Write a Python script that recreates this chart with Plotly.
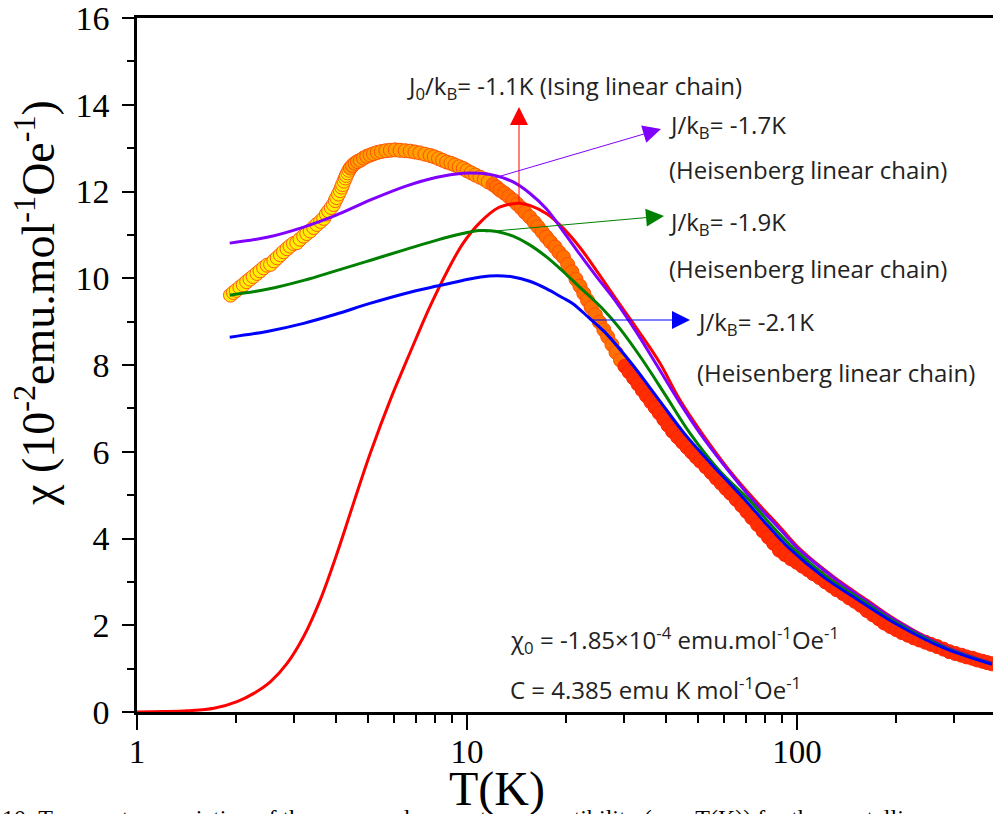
import plotly.graph_objects as go

# ---------------- data ----------------
T_data = [1.92, 1.96, 2.0, 2.05, 2.1, 2.15, 2.2, 2.25, 2.31, 2.36, 2.42, 2.48, 2.54, 2.6, 2.66, 2.72,
          2.78, 2.85, 2.91, 2.98, 3.05, 3.12, 3.2, 3.27, 3.35, 3.43, 3.51, 3.6, 3.68, 3.75, 3.81, 3.88,
          3.94, 3.99, 4.03, 4.08, 4.13, 4.17, 4.2, 4.24, 4.28, 4.31, 4.35, 4.39, 4.43, 4.5, 4.58, 4.66,
          4.75, 4.86, 4.97, 5.09, 5.21, 5.35, 5.5, 5.68, 5.86, 6.06, 6.27, 6.5, 6.73, 6.96, 7.2, 7.46,
          7.74, 7.96, 8.2, 8.44, 8.68, 8.94, 9.2, 9.47, 9.75, 10.0, 10.3, 10.6, 10.95, 11.3, 11.6, 12.0,
          12.3, 12.6, 13.0, 13.4, 13.8, 14.2, 14.6, 15.0, 15.5, 16.0, 16.4, 16.9, 17.4, 17.9, 18.5, 19.0,
          19.6, 20.2, 20.8, 21.4, 22.0, 22.6, 23.2, 23.8, 24.5, 25.2, 26.0, 26.7, 27.5, 28.3, 29.2, 30.1,
          31.0, 32.0, 33.0, 34.0, 35.0, 36.1, 37.2, 38.3, 39.5, 40.7, 42, 43.5, 45, 46.5, 48, 49.5,
          51, 53, 55, 57, 59, 61, 63, 65.5, 68, 70.5, 73, 76, 79, 82, 85, 88.5,
          92, 96, 100, 104, 108, 112, 117, 122, 127, 132, 138, 144, 150, 156, 163, 170,
          177, 184, 192, 200, 208, 217, 226, 235, 245, 255, 266, 278, 290, 302, 315, 327,
          340, 352, 365, 377, 390]
chi_data = [9.61, 9.67, 9.72, 9.79, 9.85, 9.92, 9.98, 10.04, 10.11, 10.17, 10.24, 10.30, 10.32, 10.40, 10.47, 10.54,
            10.61, 10.68, 10.74, 10.80, 10.82, 10.90, 10.97, 11.03, 11.09, 11.17, 11.24, 11.31, 11.38, 11.48, 11.55, 11.63,
            11.70, 11.79, 11.86, 11.94, 12.02, 12.10, 12.16, 12.24, 12.31, 12.37, 12.43, 12.49, 12.54, 12.60, 12.65, 12.69,
            12.72, 12.77, 12.81, 12.84, 12.87, 12.90, 12.92, 12.94, 12.95, 12.96, 12.95, 12.94, 12.93, 12.91, 12.89, 12.86,
            12.83, 12.80, 12.76, 12.72, 12.68, 12.65, 12.61, 12.57, 12.53, 12.48, 12.43, 12.38, 12.33, 12.28, 12.22, 12.16,
            12.10, 12.03, 11.96, 11.88, 11.80, 11.71, 11.62, 11.52, 11.41, 11.29, 11.19, 11.07, 10.95, 10.84, 10.72, 10.60,
            10.49, 10.32, 10.15, 9.98, 9.82, 9.65, 9.49, 9.33, 9.16, 8.99, 8.81, 8.65, 8.47, 8.29, 8.11, 7.97,
            7.84, 7.70, 7.56, 7.42, 7.29, 7.15, 7.02, 6.89, 6.75, 6.61, 6.47, 6.34, 6.22, 6.10, 5.99, 5.88,
            5.78, 5.65, 5.52, 5.39, 5.27, 5.15, 5.04, 4.90, 4.76, 4.62, 4.48, 4.32, 4.17, 4.03, 3.89, 3.73,
            3.63, 3.53, 3.45, 3.36, 3.28, 3.19, 3.10, 3.00, 2.91, 2.82, 2.73, 2.63, 2.55, 2.46, 2.34, 2.24,
            2.15, 2.05, 1.97, 1.90, 1.83, 1.77, 1.71, 1.66, 1.61, 1.56, 1.51, 1.45, 1.39, 1.35, 1.31, 1.27,
            1.24, 1.20, 1.17, 1.14, 1.11]

T_ising = [1.0, 1.2, 1.42, 1.71, 2.01, 2.26, 2.54, 2.85, 3.2, 3.59, 4.04, 4.53, 5.09, 5.93, 6.44, 7.0,
           7.73, 8.7, 9.72, 11.0, 12.4, 13.8, 14.4, 15.5, 17.5, 19.6, 22, 25, 28.5, 33, 38.4, 44,
           51.5, 62, 74.7, 88, 103, 130, 163, 200, 280, 390]
chi_ising = [0.0, 0.01, 0.03, 0.085, 0.24, 0.43, 0.70, 1.12, 1.74, 2.58, 3.66, 4.81, 5.96, 7.30, 7.95, 8.60,
             9.35, 10.15, 10.80, 11.30, 11.62, 11.72, 11.73, 11.68, 11.48, 11.15, 10.71, 10.12, 9.49, 8.80, 8.05, 7.22,
             6.43, 5.60, 4.88, 4.30, 3.73, 3.10, 2.58, 2.12, 1.52, 1.13]

T_h17 = [1.91, 2.5, 3.2, 4.0, 5.08, 6.5, 8.11, 9.72, 11, 12.3, 13.8, 15.5, 17.4, 19.5, 22, 24.8, 28.1,
         33, 37.6, 44, 50.8, 60, 73.6, 88, 102, 130, 161, 200, 280, 390]
chi_h17 = [10.81, 10.95, 11.18, 11.45, 11.80, 12.12, 12.33, 12.42, 12.42, 12.36, 12.22, 11.96, 11.60, 11.10,
           10.55, 10.02, 9.49, 8.70, 8.00, 7.15, 6.43, 5.70, 4.88, 4.25, 3.73, 3.08, 2.58, 2.10, 1.51, 1.12]

T_h19 = [1.91, 2.5, 3.2, 4.0, 5.08, 6.5, 8.11, 9.7, 10.9, 12.3, 13.8, 15.5, 17.5, 19.6, 22, 25.6, 29,
         34.1, 40, 47.4, 58, 71.8, 85, 98, 125, 157, 200, 280, 390]
chi_h19 = [9.61, 9.75, 9.95, 10.17, 10.41, 10.66, 10.88, 11.03, 11.10, 11.08, 10.97, 10.77, 10.48, 10.15,
           9.79, 9.32, 8.85, 8.11, 7.30, 6.43, 5.58, 4.88, 4.25, 3.76, 3.08, 2.58, 2.06, 1.49, 1.11]

T_h21 = [1.91, 2.5, 3.2, 4.0, 5.08, 6.5, 8.11, 9.7, 11, 12.3, 13.8, 15.5, 17.4, 19.5, 20.9, 23.5, 26,
         31.2, 38, 45.5, 55, 62, 69.8, 82, 94, 120, 155, 200, 280, 390]
chi_h21 = [8.64, 8.78, 8.96, 9.17, 9.42, 9.65, 9.82, 9.95, 10.03, 10.06, 10.03, 9.93, 9.76, 9.55, 9.42,
           9.08, 8.78, 8.08, 7.22, 6.43, 5.72, 5.30, 4.88, 4.28, 3.80, 3.12, 2.56, 2.03, 1.47, 1.10]

y_ticks = [0, 2, 4, 6, 8, 10, 12, 14, 16]
x_ticks = [1, 10, 100]
x_minor = [2, 3, 4, 5, 6, 7, 8, 9, 20, 30, 40, 50, 60, 70, 80, 90, 200, 300]

caption = ("10: Temperature variation of the measured magnetic susceptibility (χ vs T(K)) "
           "for the crystalline")

# ---------------- geometry helpers (pixel -> paper) ----------------
W, H = 993, 814
L, R, TOP, BOT = 137, 0, 18, 102
PW, PH = W - L - R, H - TOP - BOT


def px(x):
    return (x - L) / PW


def py(y):
    return (H - BOT - y) / PH


def marker_fill(t):
    if t < 4.4:
        return "#FFF000"
    if t < 12:
        return "#FFA000"
    if t < 30:
        return "#FF7000"
    return "#FF2E00"


def marker_edge(t):
    if t < 4.4:
        return "#FF5A1A"
    if t < 30:
        return "#FF5000"
    return "#FF2000"


fig = go.Figure()

# data band (underlay + circles)
fig.add_trace(go.Scatter(x=T_data, y=chi_data, mode="lines",
                         line=dict(color="#FF4000", width=11, shape="spline"),
                         hoverinfo="skip", showlegend=False))
fig.add_trace(go.Scatter(x=T_data, y=chi_data, mode="markers",
                         marker=dict(size=14, color=[marker_fill(t) for t in T_data],
                                     line=dict(color=[marker_edge(t) for t in T_data], width=1)),
                         showlegend=False))

for tx, ty, col in [(T_ising, chi_ising, "#FF0000"), (T_h17, chi_h17, "#8000FF"),
                    (T_h19, chi_h19, "#008000"), (T_h21, chi_h21, "#0000FF")]:
    fig.add_trace(go.Scatter(x=tx, y=ty, mode="lines",
                             line=dict(color=col, width=3, shape="spline", smoothing=1.0),
                             showlegend=False))

ann_font = dict(family="Open Sans", size=24, color="#222222")
texts = [
    ("J<sub>0</sub>/k<sub>B</sub>= -1.1K (Ising linear chain)", 405, 87),
    ("J/k<sub>B</sub>= -1.7K", 667, 126),
    ("(Heisenberg linear chain)", 667, 170),
    ("J/k<sub>B</sub>= -1.9K", 667, 223),
    ("(Heisenberg linear chain)", 667, 268),
    ("J/k<sub>B</sub>= -2.1K", 695, 323),
    ("(Heisenberg linear chain)", 695, 372),
    ("χ<sub>0</sub> = -1.85×10<sup>-4</sup> emu.mol<sup>-1</sup>Oe<sup>-1</sup>", 508, 640),
    ("C = 4.385 emu K mol<sup>-1</sup>Oe<sup>-1</sup>", 508, 688),
]
annotations = []
for t, x, y in texts:
    annotations.append(dict(text=t, x=px(x), y=py(y), xref="paper", yref="paper",
                            xanchor="left", yanchor="middle", showarrow=False, font=ann_font))

# arrows: head (hx,hy), tail (tx,ty) in pixels
arrows = [((519, 107), (519, 204), "#FF0000"),
          ((661, 129), (494, 178), "#8000FF"),
          ((664, 216), (484, 232), "#008000"),
          ((690, 320), (590, 320), "#0000FF")]
for (hx, hy), (tx, ty), col in arrows:
    annotations.append(dict(text="", x=px(hx), y=py(hy), xref="paper", yref="paper",
                            ax=tx - hx, ay=ty - hy, axref="pixel", ayref="pixel",
                            showarrow=True, arrowhead=2, arrowsize=3.6, arrowwidth=1,
                            arrowcolor=col))

# axis titles
annotations.append(dict(text="χ (10<sup>-2</sup>emu.mol<sup>-1</sup>Oe<sup>-1</sup>)",
                        x=px(35), y=py(303), xref="paper", yref="paper", textangle=-90,
                        xanchor="center", yanchor="middle",
                        showarrow=False, font=dict(family="Liberation Serif", size=46, color="black")))
annotations.append(dict(text="T(K)", x=px(497), y=py(789), xref="paper", yref="paper",
                        xanchor="center", yanchor="middle",
                        showarrow=False, font=dict(family="Liberation Serif", size=48, color="black")))
# figure caption (cut off by the bottom edge in the reference)
annotations.append(dict(text=caption, x=px(0), y=py(803), xref="paper", yref="paper",
                        xanchor="left", yanchor="top", showarrow=False,
                        font=dict(family="Liberation Serif", size=24, color="black")))

fig.update_layout(
    width=W, height=H,
    margin=dict(l=L, r=R, t=TOP, b=BOT, pad=0),
    paper_bgcolor="white", plot_bgcolor="white",
    annotations=annotations,
    xaxis=dict(type="log", range=[0, 2.5944], showgrid=False, zeroline=False,
               showline=True, linecolor="black", linewidth=3, mirror=True,
               tickmode="array", tickvals=x_ticks, ticktext=[str(v) for v in x_ticks],
               ticks="outside", ticklen=15, tickwidth=2, tickcolor="black",
               ticklabelstandoff=-7, ticklabeloverflow="allow",
               tickfont=dict(family="Liberation Serif", size=33, color="black"),
               minor=dict(tickmode="array", tickvals=x_minor, ticks="outside", ticklen=8,
                          tickwidth=2, tickcolor="black")),
    yaxis=dict(range=[0, 16], showgrid=False, zeroline=False,
               showline=True, linecolor="black", linewidth=2.5,
               tickmode="array", tickvals=y_ticks, ticktext=[str(v) for v in y_ticks],
               ticks="outside", ticklen=12, tickwidth=2, tickcolor="black",
               ticklabelstandoff=6, ticklabeloverflow="allow",
               tickfont=dict(family="Liberation Serif", size=34, color="black"),
               minor=dict(dtick=1, ticks="outside", ticklen=7, tickwidth=2, tickcolor="black")),
)

fig.write_html("out.html")
